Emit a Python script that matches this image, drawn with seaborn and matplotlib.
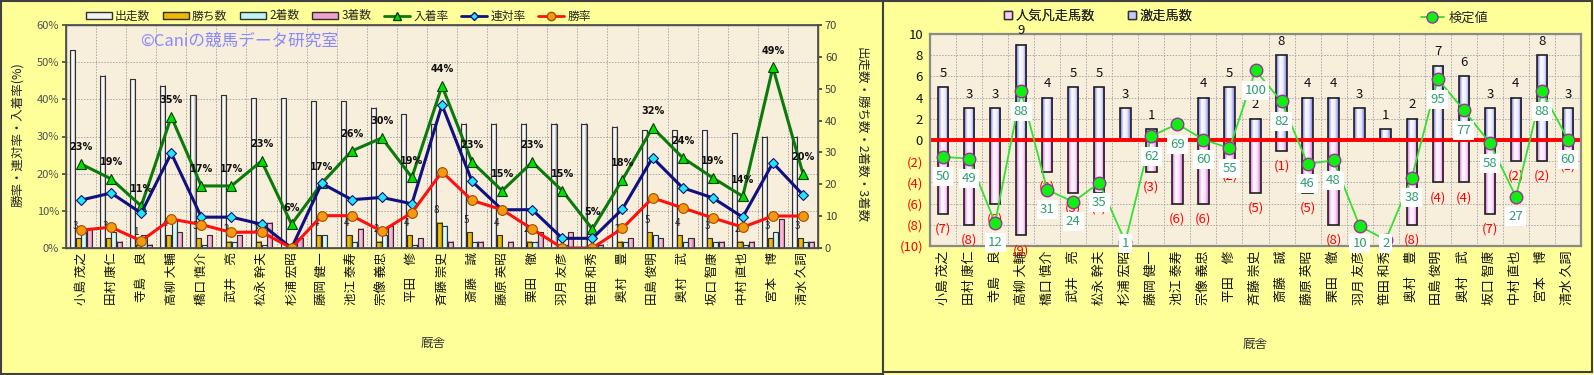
import numpy as np
import pandas as pd
import seaborn as sns
import matplotlib.pyplot as plt
from matplotlib.colors import LinearSegmentedColormap
from matplotlib.patches import Patch, Rectangle
from matplotlib.lines import Line2D

# ---- data ----
names = ['小島 茂之', '田村 康仁', '寺島　良', '高柳 大輔', '橋口 慎介', '武井　亮', '松永 幹夫',
         '杉浦 宏昭', '藤岡 健一', '池江 泰寿', '宗像 義忠', '平田　修', '斉藤 崇史', '斎藤　誠',
         '藤原 英昭', '栗田　徹', '羽月 友彦', '笹田 和秀', '奥村　豊', '田島 俊明', '奥村　武',
         '坂口 智康', '中村 直也', '宮本　博', '清水 久詞']

starts = [62, 54, 53, 51, 48, 48, 47, 47, 46, 46, 44, 42, 39, 39, 39, 39, 39, 39, 38, 37, 37, 37, 36, 35, 35]
wins = [3, 3, 1, 4, 3, 2, 2, 0, 4, 4, 2, 4, 8, 5, 4, 2, 0, 0, 2, 5, 4, 3, 2, 3, 3]
seconds = [5, 5, 4, 9, 1, 2, 1, 0, 4, 2, 4, 1, 7, 2, 0, 2, 1, 1, 2, 4, 2, 2, 1, 5, 2]
thirds = [6, 2, 1, 5, 4, 4, 8, 3, 0, 6, 7, 3, 2, 2, 2, 5, 5, 1, 3, 3, 3, 2, 2, 9, 2]

# rates in %
place_rate = [22.6, 18.6, 11.3, 35.3, 16.7, 16.7, 23.4, 6.4, 17.4, 26.1, 29.6, 19.0, 43.6, 23.1,
              15.4, 23.1, 15.4, 5.1, 18.4, 32.4, 24.3, 18.9, 13.9, 48.6, 20.0]
quinella_rate = [12.9, 14.8, 9.4, 25.5, 8.3, 8.3, 6.4, 0.0, 17.4, 13.0, 13.6, 11.9, 38.5, 17.9,
                 10.3, 10.3, 2.6, 2.6, 10.5, 24.3, 16.2, 13.5, 8.3, 22.9, 14.3]
win_rate = [4.8, 5.6, 1.9, 7.8, 6.3, 4.2, 4.3, 0.0, 8.7, 8.7, 4.5, 9.5, 20.5, 12.8,
            10.3, 5.1, 0.0, 0.0, 5.3, 13.5, 10.8, 8.1, 5.6, 8.6, 8.6]

# right chart
gekiso = [5, 3, 3, 9, 4, 5, 5, 3, 1, 0, 4, 5, 2, 8, 4, 4, 3, 1, 2, 7, 6, 3, 4, 8, 3]
bonso = [7, 8, 6, 9, 3, 5, 5, 0, 3, 6, 6, 2, 5, 1, 5, 8, 0, 0, 8, 4, 4, 7, 2, 2, 1]
kentei = [50, 49, 12, 88, 31, 24, 35, 1, 62, 69, 60, 55, 100, 82, 46, 48, 10, 2, 38, 95, 77, 58, 27, 88, 60]

sns.set_theme(style='white')
plt.rcParams['font.family'] = ['Noto Sans CJK JP', 'DejaVu Sans']

W, H = 1594, 375
fig = plt.figure(figsize=(W / 100, H / 100), dpi=100)
fig.patch.set_facecolor('#FFFF99')


def fx(px):
    return px / W


def fy(px):
    return 1 - px / H


# panel borders
fig.patches.append(Rectangle((fx(1), fy(374)), fx(882), 373 / H, transform=fig.transFigure,
                             facecolor='#FFFF99', edgecolor='#404040', lw=1.5, zorder=-10))
fig.patches.append(Rectangle((fx(883), fy(372)), fx(709), 371 / H, transform=fig.transFigure,
                             facecolor='#FFFF99', edgecolor='#404040', lw=1.5, zorder=-10))


def cylinder(ax, bars, cols):
    cmap = LinearSegmentedColormap.from_list('c', cols)
    grad = np.linspace(0, 1, 64).reshape(1, -1)
    for b in bars:
        x, y = b.get_xy()
        w, h = b.get_width(), b.get_height()
        if h == 0:
            b.set_visible(False)
            continue
        ax.imshow(grad, extent=(x, x + w, y, y + h), cmap=cmap, aspect='auto',
                  zorder=0.9, interpolation='bilinear')
        b.set_facecolor('none')
        b.set_zorder(1)


xs = np.arange(len(names))
n = len(names)
grid_kw = dict(color='#A8A8A8', lw=0.7, ls=(0, (1.5, 1.5)), zorder=0.3)

# ================= left chart =================
ax = fig.add_axes([fx(66), fy(248), fx(818 - 66), (248 - 25) / H])
ax.set_facecolor('#F7EEDB')

df = pd.DataFrame({'厩舎': names, '出走数': starts, '勝ち数': wins, '2着数': seconds, '3着数': thirds})
long = df.melt(id_vars='厩舎', var_name='系列', value_name='数')
bar_cols = ['#F2F2F2', '#F0B800', '#BDF4F6', '#F2A0CC']
sns.barplot(data=long, x='厩舎', y='数', hue='系列', ax=ax, palette=bar_cols, width=0.74, gap=0.08,
            edgecolor='#303030', linewidth=0.8, saturation=1, errorbar=None, legend=False)

cyl_cols = [['#8C8C8C', '#FFFFFF', '#F4F4F4', '#7A7A7A'],
            ['#B88A00', '#F8C800', '#E8B000', '#A07800'],
            ['#8FD8DC', '#E6FFFF', '#C8F8FA', '#80C8CC'],
            ['#D070A8', '#FFC8E4', '#F4A8D0', '#C06098']]
patches = list(ax.patches)
for k in range(4):
    cylinder(ax, patches[k * n:(k + 1) * n], cyl_cols[k])

for v in np.arange(10, 61, 10) * 70 / 60:
    ax.axhline(v, **grid_kw)
for v in np.arange(0.5, n - 1, 1):
    ax.axvline(v, **grid_kw)

ax.set_xlim(-0.5, n - 0.5)
ax.set_ylim(0, 70)
ax.set_yticks(range(0, 71, 10))
ax.tick_params(axis='x', labelsize=9, pad=3, length=0)
ax.set_xticks(xs)
ax.set_xticklabels(names, rotation=90, color='#111111')
ax.set_xlabel('')
ax.set_ylabel('')
for s in ax.spines.values():
    s.set_color('#505050')
    s.set_linewidth(1.0)

# win count labels
for i, v in enumerate(wins):
    if v > 0:
        ax.annotate(str(v), (i - 0.09, v), xytext=(-2, 9), textcoords='offset points',
                    ha='center', va='center', fontsize=7, color='#202020')

ax2 = ax.twinx()
ax2.patch.set_visible(False)
# twinx moves the original ticks to the left, so put them back on the right
ax.yaxis.tick_right()
ax.tick_params(axis='y', labelsize=8, colors='#404040', pad=2, length=3, right=True, left=False,
               labelleft=False, labelright=True)

line_kw = dict(lw=2.2, markersize=7, markeredgewidth=0.8)
sns.lineplot(x=xs, y=place_rate, ax=ax2, color='#0B7A0B', marker='^', markerfacecolor='#00E000',
             markeredgecolor='#004000', **line_kw)
sns.lineplot(x=xs, y=quinella_rate, ax=ax2, color='#101080', marker='D', markerfacecolor='#22E6F0',
             markeredgecolor='#101080', **dict(line_kw, markersize=5.5))
sns.lineplot(x=xs, y=win_rate, ax=ax2, color='#FF1010', marker='o', markerfacecolor='#F59A10',
             markeredgecolor='#A05000', **line_kw)
ax2.set_ylim(0, 60)
ax2.set_yticks(range(0, 61, 10))
ax2.set_yticklabels([f'{v}%' for v in range(0, 61, 10)])
ax2.yaxis.tick_left()
ax2.tick_params(axis='y', labelsize=8, colors='#505050', pad=2, length=3, left=True, right=False,
                labelleft=True, labelright=False)
for s in ax2.spines.values():
    s.set_color('#505050')
ax2.set_xlim(-0.5, n - 0.5)

for i, v in enumerate(place_rate):
    ax2.annotate(f'{int(v + 0.5)}%', (i, v), xytext=(0, 12), textcoords='offset points',
                 ha='center', va='center', fontsize=7, fontweight='bold', color='#111111',
                 family='DejaVu Sans')

ax2.text(0.23, 0.928, '©Caniの競馬データ研究室', transform=ax2.transAxes, ha='center', va='center',
         fontsize=12, color='#8A8AFF')

fig.text(fx(18), fy(135), '勝率・連対率・入着率(%)', rotation=90, ha='center', va='center', fontsize=9)
fig.text(fx(861), fy(135), '出走数・勝ち数・2着数・3着数', rotation=270, ha='center', va='center', fontsize=9)
fig.text(fx(433), fy(343), '厩舎', ha='center', va='center', fontsize=9, color='#333333')

handles = [Patch(facecolor='#F2F2F2', edgecolor='#303030'),
           Patch(facecolor='#F0B800', edgecolor='#303030'),
           Patch(facecolor='#BDF4F6', edgecolor='#303030'),
           Patch(facecolor='#F2A0CC', edgecolor='#303030'),
           Line2D([], [], color='#0B7A0B', lw=2, marker='^', markerfacecolor='#00E000',
                  markeredgecolor='#004000', markersize=6),
           Line2D([], [], color='#101080', lw=2, marker='D', markerfacecolor='#22E6F0',
                  markeredgecolor='#101080', markersize=4.5),
           Line2D([], [], color='#FF1010', lw=2, marker='o', markerfacecolor='#F59A10',
                  markeredgecolor='#A05000', markersize=6)]
labels = ['出走数', '勝ち数', '2着数', '3着数', '入着率', '連対率', '勝率']
fig.legend(handles, labels, loc='center left', bbox_to_anchor=(fx(80), fy(16)), ncol=7,
           frameon=False, fontsize=8.5, handlelength=2.2, handleheight=0.5, columnspacing=1.1,
           handletextpad=0.25, borderpad=0)

# ================= right chart =================
ax3 = fig.add_axes([fx(930), fy(246), fx(1581 - 930), (246 - 34) / H])
ax3.set_facecolor('#F7EEDB')
sns.barplot(x=names, y=gekiso, ax=ax3, color='#8888FF', width=0.4, edgecolor='#202020',
            linewidth=1.2, saturation=1, errorbar=None)
sns.barplot(x=names, y=[-v for v in bonso], ax=ax3, color='#FF88FF', width=0.4, edgecolor='#202020',
            linewidth=1.2, saturation=1, errorbar=None)
patches = list(ax3.patches)
cylinder(ax3, patches[:n], ['#6A6AF0', '#FFFFFF', '#E8E8FF', '#7070F0'])
cylinder(ax3, patches[n:], ['#E060E0', '#FFFFFF', '#FFE0FF', '#E060E0'])

for v in range(-8, 10, 2):
    ax3.axhline(v, **grid_kw)
for v in np.arange(0.5, n - 1, 1):
    ax3.axvline(v, **grid_kw)
ax3.axhline(0, color='#FF0000', lw=2.8, zorder=2)

ax3.set_xlim(-0.5, n - 0.5)
ax3.set_ylim(-10, 10)
ticks = list(range(-10, 11, 2))
ax3.set_yticks(ticks)
ax3.set_yticklabels([f'({-t})' if t < 0 else str(t) for t in ticks])
for t, lab in zip(ticks, ax3.get_yticklabels()):
    lab.set_color('#FF0000' if t < 0 else '#111111')
ax3.tick_params(axis='y', labelsize=9.5, pad=5, length=0)
ax3.tick_params(axis='x', labelsize=9.3, pad=3, length=0)
ax3.set_xticks(xs)
ax3.set_xticklabels(names, rotation=90, color='#111111')
for s in ax3.spines.values():
    s.set_color('#8A8A8A')
    s.set_linewidth(1.6)

for i, (p, q) in enumerate(zip(gekiso, bonso)):
    if p > 0:
        ax3.annotate(str(p), (i, p), xytext=(0, 10), textcoords='offset points', ha='center',
                     va='center', fontsize=9.5, color='#111111')
    if q > 0:
        ax3.annotate(f'({q})', (i, -q), xytext=(0, -11), textcoords='offset points', ha='center',
                     va='center', fontsize=9.5, color='#FF0000')

ax4 = ax3.twinx()
ax4.patch.set_visible(False)
sns.lineplot(x=xs, y=kentei, ax=ax4, color='#33E033', lw=1.3, marker='o', markersize=9,
             markerfacecolor='#11EE11', markeredgecolor='#993399', markeredgewidth=1)
ax4.set_ylim(-1.5, 121)
ax4.set_yticks([])
ax4.set_xlim(-0.5, n - 0.5)
for s in ax4.spines.values():
    s.set_visible(False)
for i, v in enumerate(kentei):
    ax4.text(i, max(v - 11.6, -0.3), str(v), ha='center', va='center', fontsize=9.5, color='#2E9E70',
             zorder=5, bbox=dict(facecolor='white', edgecolor='none', pad=2.2))

fig.text(fx(1255), fy(344), '厩舎', ha='center', va='center', fontsize=9, color='#333333')

leg1 = fig.legend([Patch(facecolor='#FFC8FF', edgecolor='#303030'),
                   Patch(facecolor='#C8C8FF', edgecolor='#303030')],
                  ['人気凡走馬数', '激走馬数'], loc='center left', bbox_to_anchor=(fx(997), fy(16)),
                  ncol=2, frameon=False, fontsize=9.5, handlelength=0.6, handleheight=0.6,
                  columnspacing=2.5, handletextpad=0.3, borderpad=0)
fig.legend([Line2D([], [], color='#33E033', lw=1.3, marker='o', markerfacecolor='#11EE11',
                   markeredgecolor='#993399', markersize=8)],
           ['検定値'], loc='center left', bbox_to_anchor=(fx(1414), fy(18)), frameon=False,
           fontsize=9.5, handlelength=1.8, handletextpad=0.3, borderpad=0)
fig.add_artist(leg1)

fig.savefig('out.png', dpi=100, facecolor=fig.get_facecolor())
